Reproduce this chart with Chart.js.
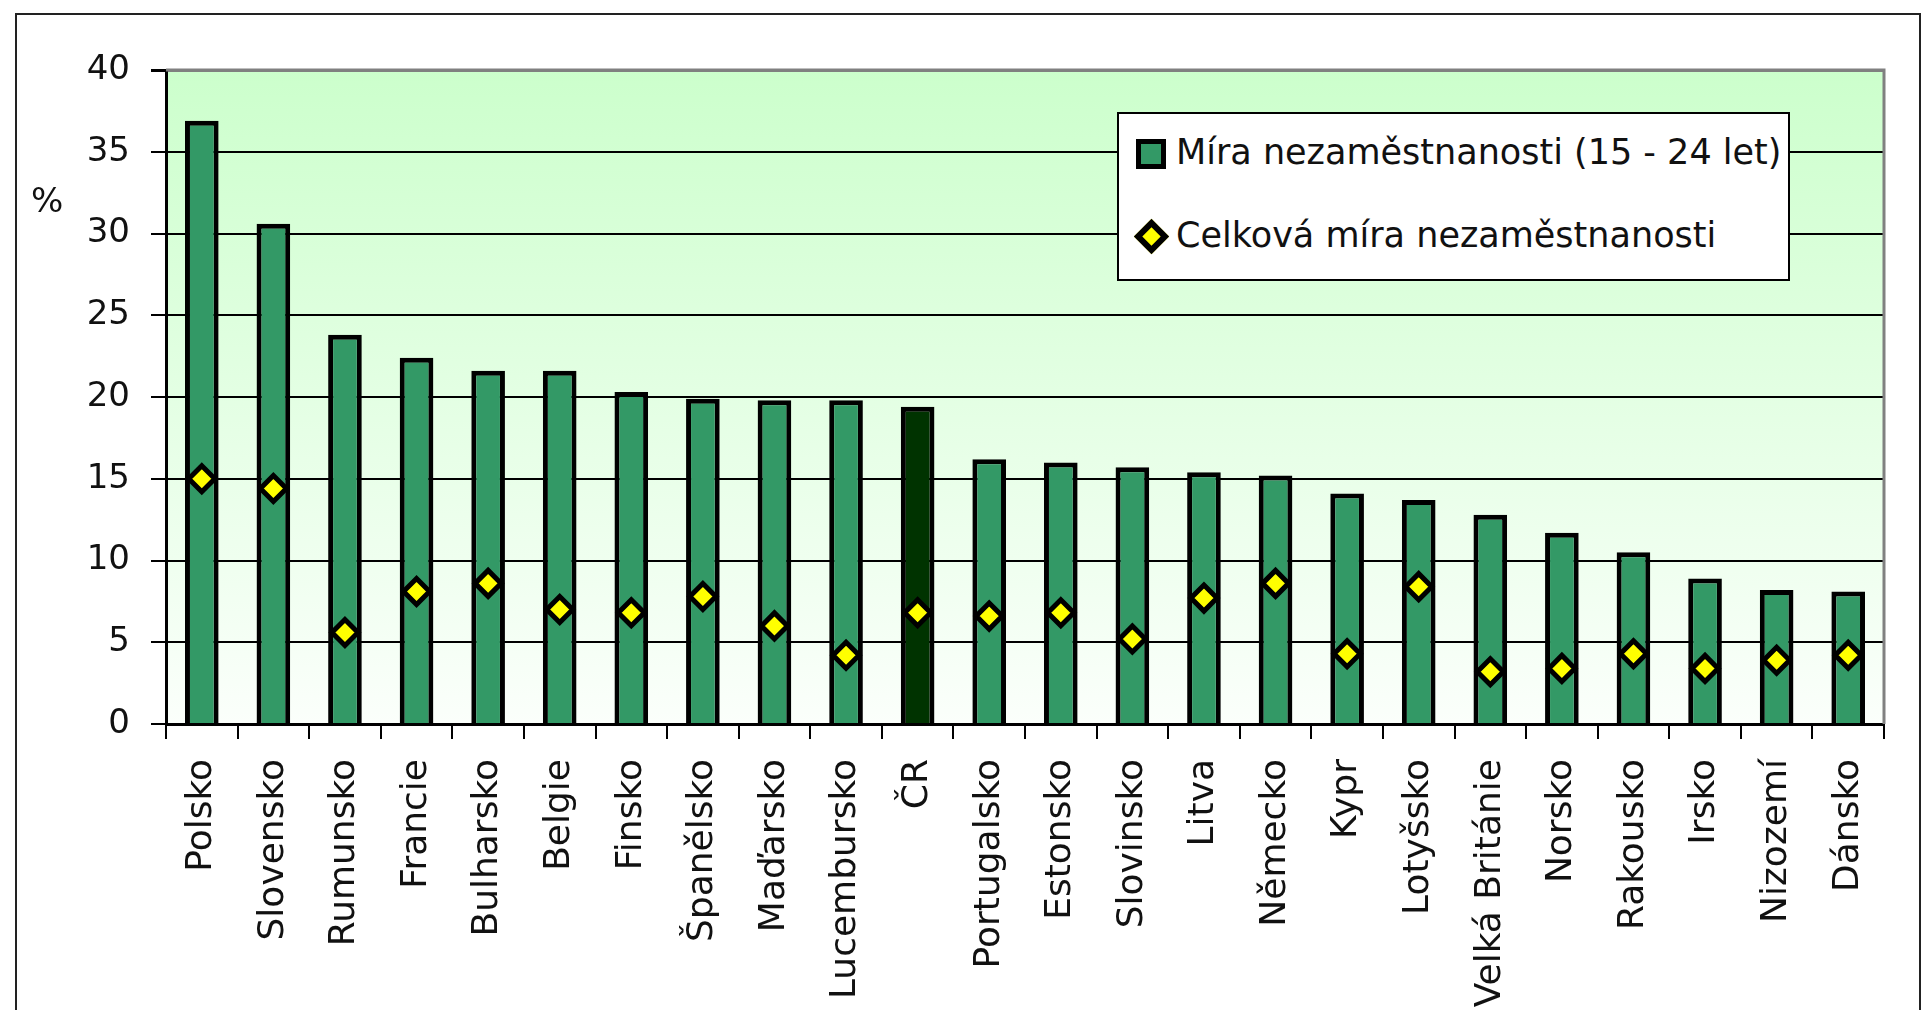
<!DOCTYPE html>
<html>
<head>
<meta charset="utf-8">
<script src="https://cdn.jsdelivr.net/npm/chart.js@4.4.0/dist/chart.umd.min.js"></script>
<style>
  html, body { margin: 0; padding: 0; background: #fff; overflow: hidden; }
  #frame { position: absolute; left: 15px; top: 13px; width: 1906px; height: 1200px; border: 2px solid #222; box-sizing: border-box; }
  #wrap { position: absolute; left: 0; top: 0; width: 1927px; height: 1010px; }
  #pct { position: absolute; left: 31px; top: 180px; font: 34px "DejaVu Sans"; color: #111; }
  #legend { position: absolute; left: 1117px; top: 112px; width: 673px; height: 169px; box-sizing: border-box;
            border: 2px solid #000; background: #fff; font: 35px "DejaVu Sans"; color: #111; }
  #legend .row { position: absolute; left: 15px; height: 40px; line-height: 40px; white-space: nowrap; }
  #legend .sq { position: absolute; left: 2px; top: 5px; width: 30px; height: 30px; box-sizing: border-box; background: #339966; border: 5px solid #000; }
  #legend .dm { position: absolute; left: 5px; top: 7px; width: 25px; height: 25px; box-sizing: border-box; background: #ffff00; border: 6px solid #000; transform: rotate(45deg); }
  #legend .txt { position: absolute; left: 42px; top: -2px; }
</style>
</head>
<body>
<div id="frame"></div>
<div id="wrap"><canvas id="chart" width="1927" height="1010"></canvas></div>
<div id="pct">%</div>
<div id="legend"></div>
<script>
// data
const categories = ["Polsko", "Slovensko", "Rumunsko", "Francie", "Bulharsko", "Belgie", "Finsko", "Španělsko",
  "Maďarsko", "Lucembursko", "ČR", "Portugalsko", "Estonsko", "Slovinsko", "Litva", "Německo", "Kypr",
  "Lotyšsko", "Velká Británie", "Norsko", "Rakousko", "Irsko", "Nizozemí", "Dánsko"];
const seriesNames = ["Míra nezaměstnanosti (15 - 24 let)", "Celková míra nezaměstnanosti"];
const youthRate = [36.9, 30.6, 23.8, 22.4, 21.6, 21.6, 20.3, 19.9, 19.8, 19.8, 19.4, 16.2, 16.0, 15.7, 15.4, 15.2,
  14.1, 13.7, 12.8, 11.7, 10.5, 8.9, 8.2, 8.1];
const totalRate = [15.0, 14.4, 5.6, 8.1, 8.6, 7.0, 6.8, 7.8, 6.0, 4.2, 6.8, 6.6, 6.8, 5.2, 7.7, 8.6, 4.3,
  8.4, 3.2, 3.4, 4.3, 3.4, 3.9, 4.2];
const yTicks = [0, 5, 10, 15, 20, 25, 30, 35, 40];

// green gradient behind the plot and gray frame on top/right
const plotBg = {
  id: "plotBg",
  beforeDraw(chart) {
    const { ctx, chartArea: a } = chart;
    const g = ctx.createLinearGradient(0, a.top, 0, a.bottom);
    g.addColorStop(0, "#ccffcc");
    g.addColorStop(1, "#fbfffb");
    ctx.save();
    ctx.fillStyle = g;
    ctx.fillRect(a.left, a.top, a.right - a.left, a.bottom - a.top);
    ctx.restore();
  },
  beforeDatasetsDraw(chart) {
    const { ctx, chartArea: a } = chart;
    ctx.save();
    ctx.strokeStyle = "#808080";
    ctx.lineWidth = 3;
    ctx.beginPath();
    ctx.moveTo(a.left, a.top);
    ctx.lineTo(a.right, a.top);
    ctx.lineTo(a.right, a.bottom);
    ctx.stroke();
    ctx.restore();
  }
};

const chart = new Chart(document.getElementById("chart"), {
  type: "bar",
  data: {
    labels: categories,
    datasets: [
      {
        type: "line",
        label: seriesNames[1],
        data: totalRate,
        showLine: false,
        pointStyle: "rectRot",
        pointRadius: 13,
        pointBorderWidth: 5,
        pointBackgroundColor: "#ffff00",
        pointBorderColor: "#000",
        order: 0
      },
      {
        label: seriesNames[0],
        data: youthRate,
        backgroundColor: categories.map(c => c === "ČR" ? "#003300" : "#339966"),
        borderColor: "#000",
        borderWidth: 5,
        borderSkipped: "bottom",
        barPercentage: 0.47,
        categoryPercentage: 1.0,
        order: 1
      }
    ]
  },
  options: {
    responsive: false,
    animation: false,
    layout: { padding: { left: 0, top: 70, right: 43, bottom: 0 } },
    plugins: { legend: { display: false }, tooltip: { enabled: false } },
    scales: {
      x: {
        offset: true,
        grid: { display: true, drawOnChartArea: false, drawTicks: true, tickLength: 15, color: "#000", lineWidth: 2, offset: true },
        border: { color: "#000", width: 3 },
        ticks: { autoSkip: false, maxRotation: 90, minRotation: 90, padding: 20, color: "#111",
                 font: { family: "DejaVu Sans", size: 36 } },
        afterFit(scale) { scale.height = 286; }
      },
      y: {
        min: 0,
        max: 40,
        afterBuildTicks(scale) { scale.ticks = yTicks.map(v => ({ value: v })); },
        grid: {
          color: c => c.tick && c.tick.value === 40 ? "#808080" : "#000",
          lineWidth: c => c.tick && c.tick.value === 40 ? 3 : 2,
          tickLength: 15,
          tickColor: "#000"
        },
        border: { color: "#000", width: 3 },
        ticks: { padding: 21, color: "#111", font: { family: "DejaVu Sans", size: 34 } },
        afterFit(scale) { scale.width = 166; }
      }
    }
  },
  plugins: [plotBg]
});

// legend inside the plot, built from the dataset names
const legend = document.getElementById("legend");
[[seriesNames[0], "sq", 20], [seriesNames[1], "dm", 103]].forEach(([name, cls, top]) => {
  const row = document.createElement("div");
  row.className = "row";
  row.style.top = top + "px";
  row.innerHTML = '<span class="' + cls + '"></span><span class="txt"></span>';
  row.querySelector(".txt").textContent = name;
  legend.appendChild(row);
});
</script>
</body>
</html>
